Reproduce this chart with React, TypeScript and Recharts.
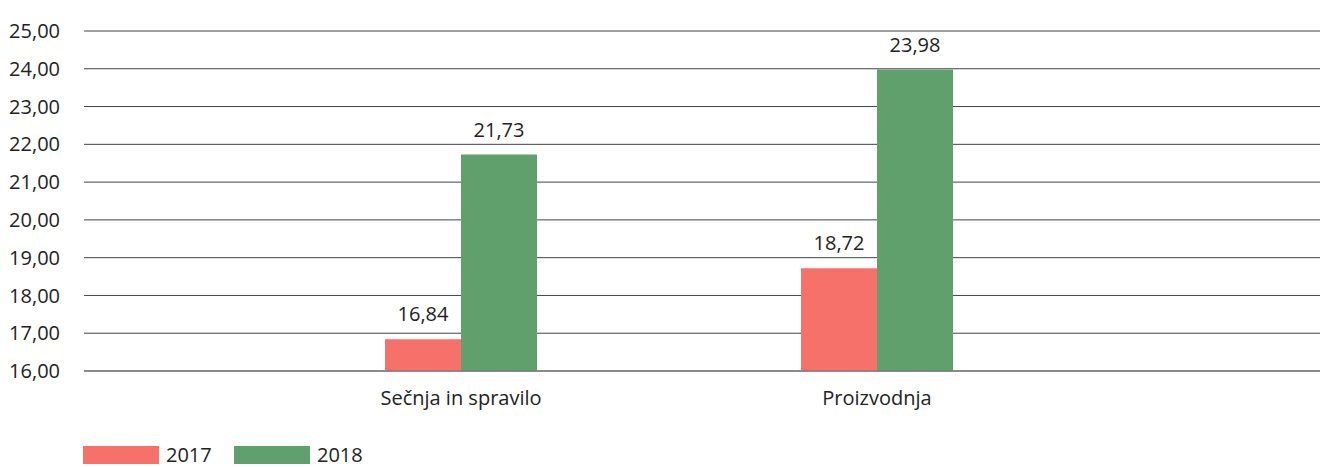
import React from "react";
import {
  BarChart,
  Bar,
  XAxis,
  YAxis,
  CartesianGrid,
  LabelList,
} from "recharts";

const categories = ["Sečnja in spravilo", "Proizvodnja"];
const values2017 = [16.84, 18.72];
const values2018 = [21.73, 23.98];
const yTicks = [16, 17, 18, 19, 20, 21, 22, 23, 24, 25];

const RED = "#F7716B";
const GREEN = "#5FA06C";
const FONT = "'Open Sans', sans-serif";

const data = categories.map((name, i) => ({
  name,
  y2017: values2017[i],
  y2018: values2018[i],
}));

const fmt = (v: any) => Number(v).toFixed(2).replace(".", ",");

export default function App() {
  return (
    <div
      style={{
        position: "absolute",
        left: 0,
        top: 0,
        width: 1320,
        height: 467,
        background: "#fff",
        fontFamily: FONT,
        overflow: "hidden",
      }}
    >
      <BarChart
        width={1320}
        height={420}
        data={data}
        margin={{ top: 31, right: 0, bottom: 8, left: 0 }}
        barGap={0}
        barSize={76}
      >
        <CartesianGrid vertical={false} stroke="#444" strokeWidth={1} />
        <XAxis
          dataKey="name"
          height={41}
          padding={{ left: 169, right: 235 }}
          axisLine={{ stroke: "#777" }}
          tickLine={false}
          tickSize={0}
          tickMargin={20}
          tick={{ fill: "#222", fontSize: 20, fontFamily: FONT }}
        />
        <YAxis
          width={84}
          domain={[16, 25]}
          ticks={yTicks}
          allowDataOverflow
          axisLine={false}
          tickLine={false}
          tickSize={0}
          tickMargin={24}
          tickFormatter={fmt}
          tick={{ fill: "#222", fontSize: 20, fontFamily: FONT }}
        />
        <Bar dataKey="y2017" fill={RED} isAnimationActive={false}>
          <LabelList
            dataKey="y2017"
            position="top"
            offset={18}
            formatter={fmt}
            style={{ fill: "#222", fontSize: 20, fontFamily: FONT }}
          />
        </Bar>
        <Bar dataKey="y2018" fill={GREEN} isAnimationActive={false}>
          <LabelList
            dataKey="y2018"
            position="top"
            offset={18}
            formatter={fmt}
            style={{ fill: "#222", fontSize: 20, fontFamily: FONT }}
          />
        </Bar>
      </BarChart>

      {/* legend */}
      <div
        style={{
          position: "absolute",
          left: 83,
          top: 445,
          height: 20,
          display: "flex",
          alignItems: "center",
          fontSize: 20,
          lineHeight: "20px",
          color: "#222",
        }}
      >
        <span style={{ width: 76, height: 18, background: RED, display: "inline-block" }} />
        <span style={{ marginLeft: 7, width: 68 }}>2017</span>
        <span style={{ width: 76, height: 18, background: GREEN, display: "inline-block" }} />
        <span style={{ marginLeft: 7 }}>2018</span>
      </div>
    </div>
  );
}
